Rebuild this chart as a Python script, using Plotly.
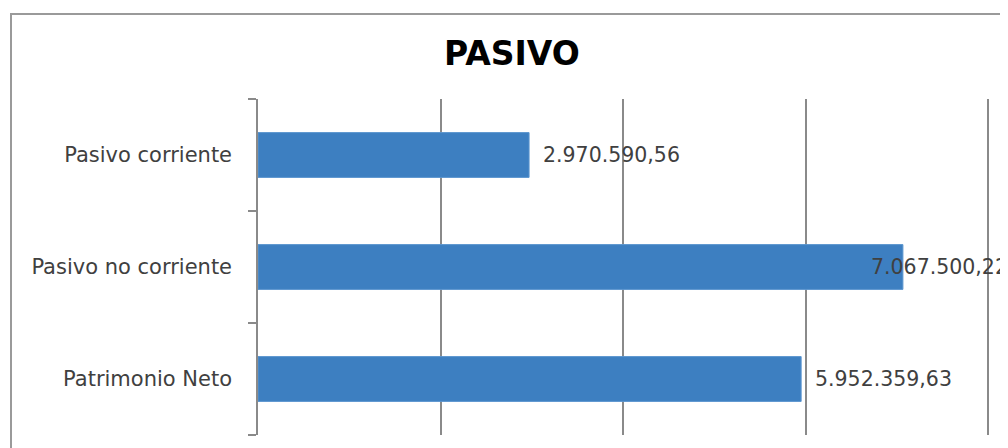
import plotly.graph_objects as go

categories = ["Pasivo corriente", "Pasivo no corriente", "Patrimonio Neto"]
values = [2970590.56, 7067500.22, 5952359.63]
value_labels = ["2.970.590,56", "7.067.500,22", "5.952.359,63"]

FONT = "DejaVu Sans"

fig = go.Figure()
fig.add_trace(go.Bar(
    y=categories, x=values, orientation="h",
    marker=dict(color="#3d7fc1", line=dict(color="#5b95cf", width=1)),
    width=0.4, hoverinfo="skip",
))

L, T, B, W, H = 250, 91, 21, 1008, 448
plot_w = W - L
xmax = plot_w / 182.5 * 2000000
for cat, v, lab in zip(categories, values, value_labels):
    inside = v > 6.8e6
    fig.add_annotation(
        x=v, y=cat, xref="x", yref="y", text=lab, showarrow=False,
        xanchor="left", xshift=(-34 if inside else 12),
        font=dict(family=FONT, size=20.5, color="#404040"),
    )

# outer chart frame
plot_h = H - T - B
fig.add_shape(type="rect", xref="paper", yref="paper",
              x0=(3 - L) / plot_w, x1=1.2, y0=-0.2, y1=1 + (T - 6) / plot_h,
              line=dict(color="#9a9a9a", width=2), fillcolor="rgba(0,0,0,0)", layer="below")

fig.update_layout(
    width=W, height=H,
    margin=dict(l=L, r=0, t=T, b=B),
    paper_bgcolor="white", plot_bgcolor="white",
    showlegend=False,
    title=dict(text="<b>PASIVO</b>", x=0.5, xanchor="center", y=0.898, yanchor="middle",
               font=dict(family=FONT, size=33, color="#000000")),
    xaxis=dict(range=[0, xmax], dtick=2000000, showgrid=True, gridcolor="#8a8a8a", gridwidth=1.5,
               showticklabels=False, zeroline=False, showline=False, ticks=""),
    yaxis=dict(categoryorder="array", categoryarray=categories[::-1], range=[-0.5, 2.5],
               showline=True, linecolor="#8a8a8a", linewidth=1.5,
               ticks="outside", ticklen=8, tickcolor="#8a8a8a", tickwidth=1.5,
               tickson="boundaries", showgrid=False, ticklabelstandoff=20,
               tickfont=dict(family=FONT, size=21, color="#404040")),
)

fig.write_html("out.html")
